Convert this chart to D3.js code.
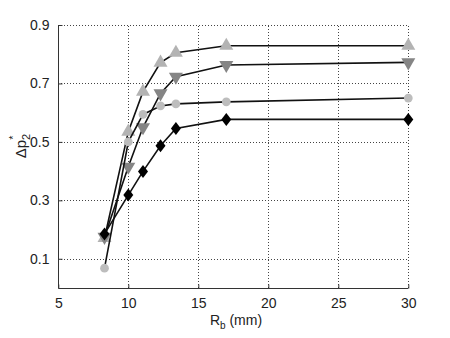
<!DOCTYPE html>
<html>
<head>
<meta charset="utf-8">
<script src="https://cdn.jsdelivr.net/npm/d3@7"></script>
<style>
body { margin: 0; background: #fff; }
text { font-family: "Liberation Sans", Arial, sans-serif; }
</style>
</head>
<body>
<div id="vis"></div>
<script>
// radius values (mm)
const rb = [8.3, 10, 11.05, 12.3, 13.4, 17, 30];
const upTri = [0.171, 0.535, 0.672, 0.771, 0.805, 0.829, 0.829];
const downTri = [0.175, 0.415, 0.55, 0.666, 0.723, 0.763, 0.772];
const circ = [0.068, 0.50, 0.594, 0.623, 0.63, 0.637, 0.65];
const diam = [0.185, 0.318, 0.399, 0.487, 0.546, 0.577, 0.577];
const xTicks = [5, 10, 15, 20, 25, 30];
const yTicks = [0.1, 0.3, 0.5, 0.7, 0.9];

const W = 450, H = 338;
const svg = d3.select("#vis").append("svg").attr("width", W).attr("height", H);

const x = d3.scaleLinear().domain([5, 30]).range([58.3, 408.3]);
const y = d3.scaleLinear().domain([0, 0.9]).range([288, 25]);

// grid
const grid = svg.append("g").attr("stroke", "#444").attr("stroke-width", 1)
	.attr("stroke-dasharray", "1,2").attr("shape-rendering", "crispEdges");
grid.selectAll("line.v").data(xTicks.slice(1)).enter().append("line")
	.attr("x1", d => Math.round(x(d)) + 0.5).attr("x2", d => Math.round(x(d)) + 0.5)
	.attr("y1", y(0)).attr("y2", y(0.9));
grid.selectAll("line.h").data(yTicks).enter().append("line")
	.attr("y1", d => Math.round(y(d)) + 0.5).attr("y2", d => Math.round(y(d)) + 0.5)
	.attr("x1", x(5)).attr("x2", x(30));

// axes
const xAxis = d3.axisBottom(x).tickValues(xTicks).tickSizeInner(-4).tickSizeOuter(0).tickPadding(10);
const yAxis = d3.axisLeft(y).tickValues(yTicks).tickSizeInner(-4).tickSizeOuter(0).tickPadding(9);
const gx = svg.append("g").attr("transform", `translate(0,${Math.round(y(0)) + 0.5})`).call(xAxis);
const gy = svg.append("g").attr("transform", `translate(${Math.round(x(5)) + 0.5},0)`).call(yAxis);
[gx, gy].forEach(g => {
	g.select(".domain").attr("stroke", "#333").attr("d", null);
	g.selectAll(".tick line").attr("stroke", "#333");
	g.selectAll("text").attr("font-size", 14).attr("fill", "#222")
		.style("font-family", "'Liberation Sans', Arial, sans-serif");
});
// axis lines drawn explicitly
svg.append("line").attr("x1", Math.round(x(5)) + 0.5).attr("x2", Math.round(x(5)) + 0.5)
	.attr("y1", y(0.9)).attr("y2", Math.round(y(0)) + 0.5).attr("stroke", "#333");
svg.append("line").attr("x1", Math.round(x(5)) + 0.5).attr("x2", x(30))
	.attr("y1", Math.round(y(0)) + 0.5).attr("y2", Math.round(y(0)) + 0.5).attr("stroke", "#333");

// labels
const xl = svg.append("text").attr("x", 236).attr("y", 325).attr("text-anchor", "middle")
	.attr("font-size", 14).attr("fill", "#222");
xl.append("tspan").text("R");
xl.append("tspan").attr("font-size", 10).attr("dy", 4).text("b");
xl.append("tspan").attr("dy", -4).text(" (mm)");

const yl = svg.append("text").attr("transform", "translate(26,146) rotate(-90)")
	.attr("text-anchor", "middle").attr("font-size", 15).attr("fill", "#222");
yl.append("tspan").text("Δp");
yl.append("tspan").attr("font-size", 11).attr("dy", 4).text("2");
yl.append("tspan").attr("font-size", 11).attr("dy", -13).attr("dx", -6).text("*");

const diamondPath = "M0,-6.5L5,0L0,6.5L-5,0Z";

const series = [
	{ vals: upTri, sym: d3.symbolTriangle, size: 85, fill: "#b3b3b3", rot: 0 },
	{ vals: downTri, sym: d3.symbolTriangle, size: 85, fill: "#858585", rot: 180 },
	{ vals: circ, sym: d3.symbolCircle, size: 60, fill: "#bdbdbd", rot: 0 },
	{ vals: diam, sym: null, size: 0, fill: "#000", rot: 0 }
];

const line = d3.line().x((d, i) => x(rb[i])).y(d => y(d));

series.forEach(s => {
	svg.append("path").attr("d", line(s.vals)).attr("fill", "none")
		.attr("stroke", "#111").attr("stroke-width", 1.6);
	svg.append("g").selectAll("path").data(s.vals).enter().append("path")
		.attr("d", s.sym ? d3.symbol().type(s.sym).size(s.size) : diamondPath)
		.attr("transform", (d, i) => `translate(${x(rb[i])},${y(d)}) rotate(${s.rot})`)
		.attr("fill", s.fill);
});
</script>
</body>
</html>
